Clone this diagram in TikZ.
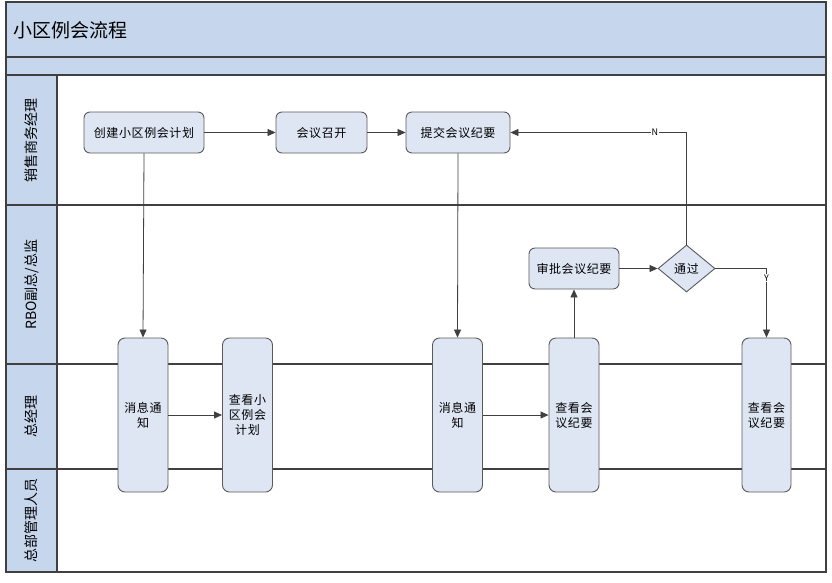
\documentclass[tikz,border=0pt]{standalone}
\usepackage{fontspec}
\setmainfont{Noto Sans CJK SC}
\newfontfamily\nodefont[LetterSpace=5]{Noto Sans CJK SC}
\usetikzlibrary{shapes.geometric,arrows.meta}
\definecolor{hdr}{RGB}{198,214,236}
\definecolor{nodef}{RGB}{222,230,244}
\definecolor{ln}{RGB}{64,64,64}
\definecolor{nln}{RGB}{90,90,90}
\begin{document}
\begin{tikzpicture}[x=1pt,y=-1pt,
  frame/.style={draw=ln,line width=1.2pt},
  lanelabel/.style={rotate=90,font=\fontsize{14}{16}\selectfont},
  task/.style={draw=nln,fill=nodef,rounded corners=6pt,line width=0.9pt,inner sep=0pt,font=\nodefont\fontsize{12}{15}\selectfont},
  tall/.style={task,minimum width=50pt,minimum height=154pt,align=center,rounded corners=7pt},
  dec/.style={diamond,draw=nln,fill=nodef,line width=0.9pt,inner sep=0pt,minimum width=57pt,minimum height=47pt,font=\nodefont\fontsize{12}{15}\selectfont},
  conn/.style={draw=ln,line width=0.8pt,-{Triangle[length=8pt,width=7pt]}},
  lbl/.style={fill=white,inner sep=1pt,font=\fontsize{9}{10}\selectfont}
]
\useasboundingbox (0,0) rectangle (832,582);
% background bands
\fill[hdr] (6,2) rectangle (826,75);
\fill[hdr] (6,75) rectangle (57,572);
\draw[frame] (6,57) -- (826,57);
\draw[frame] (6,75) -- (826,75);
\draw[frame] (57,75) -- (57,572);
\draw[frame] (6,205) -- (826,205);
\draw[frame] (6,364) -- (826,364);
\draw[frame] (6,469) -- (826,469);
\draw[frame] (6,2) rectangle (826,572);
% title
\node[anchor=west,font=\fontsize{19}{22}\selectfont] (title) at (10,30) {小区例会流程};
% lane labels
\node[lanelabel] (l1) at (31.5,140) {销售商务经理};
\node[lanelabel] (l2) at (31.5,284.5) {RBO副总/总监};
\node[lanelabel] (l3) at (31.5,416.5) {总经理};
\node[lanelabel] (l4) at (31.5,520.5) {总部管理人员};
% nodes
\node[task,minimum width=120pt,minimum height=41pt] (create) at (144,132.5) {创建小区例会计划};
\node[task,minimum width=91pt,minimum height=41pt] (meet) at (321.5,132.5) {会议召开};
\node[task,minimum width=104pt,minimum height=41pt] (submit) at (458,132.5) {提交会议纪要};
\node[task,minimum width=90pt,minimum height=41pt] (approve) at (574,268.5) {审批会议纪要};
\node[dec] (pass) at (686.5,268.5) {通过};
\node[tall] (msg1) at (143,415) {消息通\\知};
\node[tall] (view1) at (247.5,415) {查看小\\区例会\\计划};
\node[tall] (msg2) at (457.5,415) {消息通\\知};
\node[tall] (view2) at (574,415) {查看会\\议纪要};
\node[tall,minimum width=49pt] (view3) at (766.5,415) {查看会\\议纪要};
% connectors
\draw[conn] (create) -- (meet);
\draw[conn] (meet) -- (submit);
\draw[conn] (create.south) -- (msg1.north);
\draw[conn] (msg1) -- (view1);
\draw[conn] (submit.south) -- (msg2.north);
\draw[conn] (msg2) -- (view2);
\draw[conn] (view2.north) -- (approve.south);
\draw[conn] (approve) -- (pass);
\draw[conn] (pass.north) |- node[lbl,pos=0.59] {N} (submit.east);
\draw[conn] (pass.east) -| node[lbl,pos=0.57] {Y} (view3.north);
\end{tikzpicture}
\end{document}
